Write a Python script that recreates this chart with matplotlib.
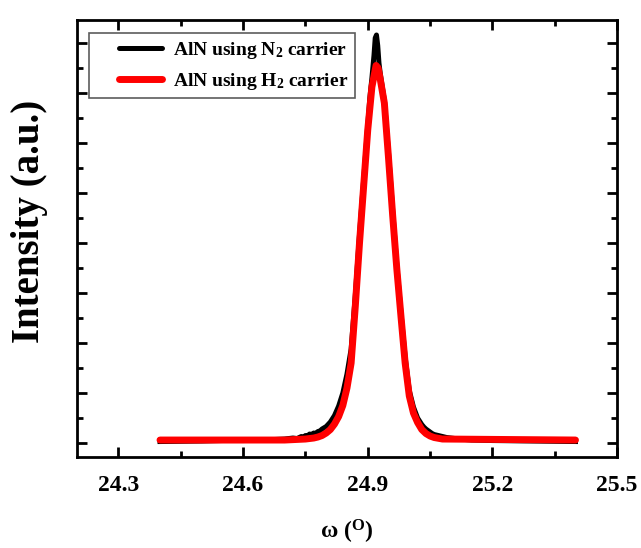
import matplotlib
matplotlib.use("Agg")
import matplotlib.pyplot as plt
from matplotlib.ticker import MultipleLocator, NullFormatter
from matplotlib.legend_handler import HandlerBase
from matplotlib.lines import Line2D

# ---- data (intensity in arbitrary units) ----
omega_n2 = [24.40, 24.50, 24.55, 24.60, 24.65, 24.70, 24.72, 24.73, 24.74, 24.745,
            24.75, 24.755, 24.76, 24.765, 24.77, 24.775, 24.78, 24.785, 24.79, 24.80,
            24.81, 24.82, 24.83, 24.84, 24.85, 24.86, 24.87, 24.88, 24.89, 24.90,
            24.905, 24.91, 24.915, 24.918, 24.921, 24.924, 24.927, 24.93, 24.94, 24.95,
            24.96, 24.97, 24.98, 24.99, 25.00, 25.01, 25.02, 25.03, 25.035, 25.04,
            25.045, 25.05, 25.055, 25.06, 25.07, 25.08, 25.09, 25.10, 25.12, 25.15,
            25.20, 25.30, 25.40]
int_n2 = [0.03, 0.04, 0.05, 0.05, 0.06, 0.08, 0.10, 0.09, 0.13, 0.11,
          0.15, 0.14, 0.18, 0.17, 0.20, 0.19, 0.23, 0.24, 0.28, 0.33,
          0.42, 0.55, 0.74, 1.00, 1.38, 1.88, 2.95, 4.15, 5.25, 6.35,
          6.90, 7.30, 7.75, 8.10, 8.16, 7.95, 7.60, 7.40, 6.85, 5.80,
          4.65, 3.55, 2.60, 1.72, 1.05, 0.72, 0.50, 0.37, 0.32, 0.28,
          0.25, 0.22, 0.19, 0.17, 0.15, 0.13, 0.11, 0.10, 0.08, 0.06,
          0.05, 0.04, 0.03]

omega_h2 = [24.40, 24.70, 24.75, 24.76, 24.77, 24.78, 24.79, 24.80, 24.81, 24.82,
            24.83, 24.84, 24.85, 24.86, 24.87, 24.88, 24.89, 24.90, 24.91, 24.92,
            24.925, 24.93, 24.94, 24.95, 24.96, 24.97, 24.98, 24.99, 25.00, 25.01,
            25.02, 25.03, 25.04, 25.05, 25.06, 25.08, 25.40]
int_h2 = [0.06, 0.06, 0.08, 0.09, 0.10, 0.12, 0.15, 0.20, 0.27, 0.38,
          0.53, 0.75, 1.10, 1.60, 2.73, 3.98, 5.12, 6.26, 7.12, 7.55,
          7.50, 7.28, 6.80, 5.70, 4.55, 3.48, 2.53, 1.60, 0.94, 0.60,
          0.41, 0.27, 0.19, 0.14, 0.11, 0.08, 0.06]

labels = ["AlN using N$_\\mathbf{2}$ carrier", "AlN using H$_\\mathbf{2}$ carrier"]
x_ticks = [24.3, 24.6, 24.9, 25.2, 25.5]

plt.rcParams['font.family'] = ['Liberation Serif', 'DejaVu Serif']
plt.rcParams['mathtext.fontset'] = 'custom'
plt.rcParams['mathtext.rm'] = 'Liberation Serif'
plt.rcParams['mathtext.bf'] = 'Liberation Serif:bold'
plt.rcParams['mathtext.it'] = 'Liberation Serif:italic'


class OffsetLineHandler(HandlerBase):
    """Legend line drawn in the right part of the handle box."""
    def create_artists(self, legend, orig_handle, xdescent, ydescent, width,
                       height, fontsize, trans):
        y = height / 2 - ydescent
        x0 = -xdescent + 0.34 * width
        x1 = -xdescent + 0.95 * width
        ln = Line2D([x0, x1], [y, y], color=orig_handle.get_color(),
                    lw=orig_handle.get_linewidth(), solid_capstyle='round')
        ln.set_transform(trans)
        return [ln]


fig = plt.figure(figsize=(6.41, 5.48), dpi=100)
ax = fig.add_axes([0.120, 0.166, 0.8426, 0.7975])

l1, = ax.plot(omega_n2, int_n2, color='black', lw=3.6, label=labels[0],
              solid_joinstyle='round')
l2, = ax.plot(omega_h2, int_h2, color='#ff0000', lw=5.0, label=labels[1],
              solid_capstyle='round', solid_joinstyle='round')

ax.set_xlim(24.2, 25.5)
ax.set_ylim(-0.28, 8.46)
ax.set_xticks(x_ticks)
ax.set_xticklabels([f"{v:.1f}" for v in x_ticks], fontsize=17, fontweight='bold')
ax.xaxis.set_minor_locator(MultipleLocator(0.15))
ax.yaxis.set_major_locator(MultipleLocator(1.0))
ax.yaxis.set_minor_locator(MultipleLocator(0.5))
ax.yaxis.set_major_formatter(NullFormatter())

ax.tick_params(which='both', direction='in', top=True, right=True, width=2)
ax.tick_params(which='major', length=7)
ax.tick_params(which='minor', length=4)
ax.tick_params(axis='x', which='major', pad=13)
for s in ax.spines.values():
    s.set_linewidth(2)

ax.set_ylabel("Intensity (a.u.)", fontsize=28, fontweight='bold')
ax.yaxis.set_label_coords(-0.053, 0.54)
ax.set_xlabel("ω ($^{\\mathbf{O}}$)", fontsize=17, fontweight='bold')
ax.xaxis.set_label_coords(0.5, -0.140)

leg = ax.legend(handles=[l1, l2], loc='upper left', bbox_to_anchor=(0.022, 0.970),
                borderaxespad=0, fancybox=False, frameon=True,
                prop={'family': 'Liberation Serif', 'weight': 'bold', 'size': 14},
                handlelength=3.6, borderpad=0.35, labelspacing=0.5,
                handletextpad=0.4, handler_map={Line2D: OffsetLineHandler()})
leg.get_frame().set_edgecolor('#333333')
leg.get_frame().set_linewidth(1.2)

fig.savefig("out.png", dpi=100)
